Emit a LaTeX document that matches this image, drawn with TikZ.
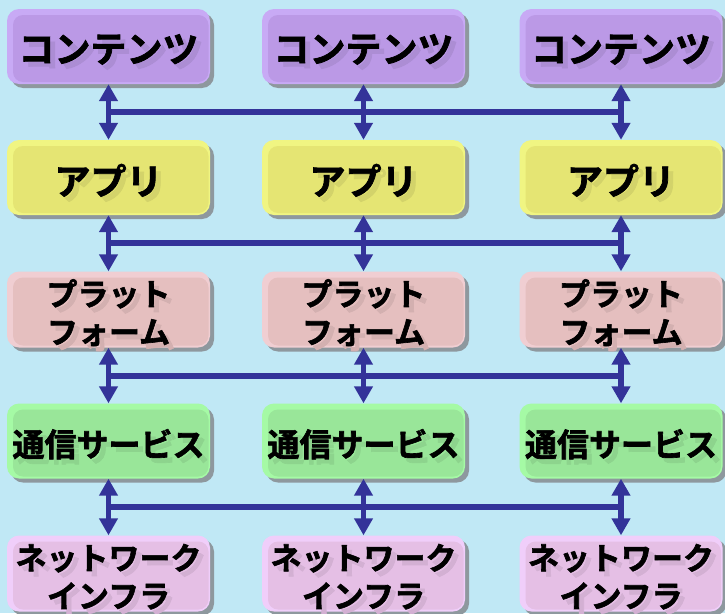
\documentclass[tikz,border=0pt]{standalone}
\usepackage{fontspec}
\newfontfamily\jp{Noto Sans CJK JP}[BoldFont=* Bold, BoldFeatures={FakeBold=2}]
\usetikzlibrary{arrows.meta,shadows,calc}
\definecolor{bg}{RGB}{192,232,245}
\definecolor{shadowc}{RGB}{142,152,158}
\definecolor{arrowc}{RGB}{51,51,153}
\definecolor{purpM}{RGB}{187,153,230}
\definecolor{purpL}{RGB}{200,170,245}
\definecolor{yelM}{RGB}{229,229,115}
\definecolor{yelL}{RGB}{240,245,130}
\definecolor{pinkM}{RGB}{229,191,191}
\definecolor{pinkL}{RGB}{240,206,210}
\definecolor{grnM}{RGB}{153,230,153}
\definecolor{grnL}{RGB}{165,250,165}
\definecolor{lilM}{RGB}{229,191,229}
\definecolor{lilL}{RGB}{240,206,250}
\newcommand\boxtext[2]{{\fontsize{#1}{38pt}\selectfont\jp\bfseries\setlength\tabcolsep{0pt}%
\raisebox{-7.5pt}[\height][\depth]{%
\makebox[0pt][l]{\kern5pt\raisebox{-5pt}[0pt][0pt]{\textcolor{shc}{\begin{tabular}{c}#2\end{tabular}}}}%
\begin{tabular}{c}#2\end{tabular}}}}
\tikzset{
 mbox/.style 2 args={fill=#2, rounded corners=12pt, minimum width=203pt, minimum height=75pt, inner sep=0pt,
   drop shadow={shadow xshift=4pt, shadow yshift=-4pt, fill=shadowc, opacity=1},
   path picture={\fill[#1, rounded corners=10pt] ([shift={(6pt,-6pt)}]path picture bounding box.north west) rectangle ([shift={(-1.5pt,2pt)}]path picture bounding box.south east);},
   execute at begin node={\colorlet{shc}{#1!92!black}}},
 contentbox/.style={mbox={purpM}{purpL}},
 appbox/.style={mbox={yelM}{yelL}},
 platbox/.style={mbox={pinkM}{pinkL}},
 commbox/.style={mbox={grnM}{grnL}},
 netbox/.style={mbox={lilM}{lilL}},
 arr/.style={draw=arrowc, line width=5.5pt, {Triangle[length=17pt,width=18pt]}-{Triangle[length=17pt,width=18pt]}},
 hline/.style={draw=arrowc, line width=6pt}
}
\begin{document}
\begin{tikzpicture}
\useasboundingbox (0,0) rectangle (725pt,-613pt);
\fill[bg] (0,0) rectangle (725pt,-613pt);
\foreach \i/\x in {1/108.5,2/363.5,3/621}{
 \node[contentbox] (c\i) at (\x pt,-46.5pt) {\boxtext{36pt}{コンテンツ}};
 \node[appbox] (a\i) at (\x pt,-177.5pt) {\boxtext{36pt}{アプリ}};
 \node[platbox] (p\i) at (\x pt,-309.5pt) {\boxtext{31pt}{プラット\\フォーム}};
 \node[commbox] (s\i) at (\x pt,-441pt) {\boxtext{32pt}{通信サービス}};
 \node[netbox] (n\i) at (\x pt,-573.5pt) {\boxtext{31pt}{ネットワーク\\インフラ}};
}
\foreach \u/\l/\k in {c/a/1,a/p/2,p/s/3,s/n/4}{
 \coordinate (mL\k) at ($(\u1.south)!0.5!(\l1.north)$);
 \coordinate (mR\k) at ($(\u3.south)!0.5!(\l3.north)$);
 \draw[hline] (mL\k) -- (mR\k);
 \foreach \i in {1,2,3}{
  \draw[arr] (\u\i.south) -- (\l\i.north);
 }
}
\end{tikzpicture}
\end{document}
